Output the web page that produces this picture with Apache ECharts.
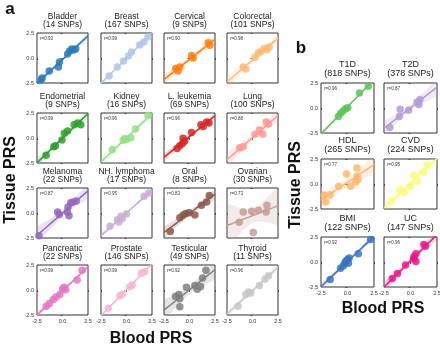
<!DOCTYPE html>
<html>
<head>
<meta charset="utf-8">
<script src="https://cdn.jsdelivr.net/npm/echarts@6/dist/echarts.min.js"></script>
<style>
  html, body { margin: 0; padding: 0; background: #fff; }
  #chart { width: 440px; height: 348px; }
</style>
</head>
<body>
<div id="chart"></div>
<script>
// ---- panel a: cancers ----
const namesA = ['Bladder', 'Breast', 'Cervical', 'Colorectal',
  'Endometrial', 'Kidney', 'L. leukemia', 'Lung',
  'Melanoma', 'NH. lymphoma', 'Oral', 'Ovarian',
  'Pancreatic', 'Prostate', 'Testicular', 'Thyroid']
const snpsA = [14, 167, 9, 101, 9, 16, 69, 100, 22, 17, 8, 30, 22, 146, 49, 11]
const rA = ['0.93', '0.99', '0.90', '0.98', '0.99', '0.96', '0.96', '0.88',
  '0.87', '0.95', '0.83', '0.73', '0.99', '0.99', '0.92', '0.96']
const colorsA = ['#2a7ab9', '#aec7e8', '#ff7f0e', '#ffbb78',
  '#2ca02c', '#98df8a', '#d62728', '#ff9896',
  '#9467bd', '#c5b0d5', '#8c564b', '#c49c94',
  '#e377c2', '#f7b6d2', '#7f7f7f', '#c7c7c7']

const bladder = [[-2.0, -2.0], [-2.1, -2.2], [-1.3, -1.3], [-0.4, -0.9], [-0.3, -0.4], [0.5, 0.4], [0.7, 0.7], [0.9, 0.9], [1.1, 0.8], [1.3, 0.9]]
const breast = [[-1.7, -1.8], [-0.9, -0.9], [-0.3, -0.3], [0.2, 0.2], [0.5, 0.6], [1.3, 1.3], [1.7, 1.6], [2.1, 2.1]]
const cervical = [[-1.35, -1.05], [-1.12, -1.3], [-0.95, -0.9], [0.2, 0.25], [0.36, 0.0], [1.84, 1.53], [2.0, 1.27]]
const colorectal = [[-0.91, -0.89], [-0.65, -1.1], [0.25, 0.08], [0.58, 0.5], [0.81, 0.63], [1.14, 0.95], [1.41, 0.82], [1.64, 1.1]]
const endometrial = [[-1.6, -1.72], [-0.85, -0.88], [-0.69, -0.78], [-0.05, -0.2], [0.18, 0.47], [0.5, 0.71], [1.15, 1.32], [1.47, 1.49], [1.79, 1.32]]
const kidney = [[-1.4, -1.14], [-0.32, -0.22], [-0.16, -0.05], [0.0, -0.15], [0.42, 0.02], [0.88, 0.9], [2.1, 2.26]]
const leukemia = [[-1.22, -1.05], [-0.95, -0.78], [-0.69, -0.54], [-0.63, -0.03], [-0.46, -0.3], [0.2, 0.54], [1.12, 1.32], [1.35, 1.15], [1.68, 1.59], [1.91, 1.49]]
const lung = [[-1.24, -0.98], [-0.91, -0.88], [0.25, 0.37], [0.68, 0.81], [1.01, 0.37], [1.34, 1.59], [1.57, 1.39]]
const melanoma = [[-2.31, -2.27], [-0.48, 0.11], [-0.32, -0.15], [0.48, 0.11], [0.64, -0.28], [0.54, 0.6], [0.8, 1.03], [1.03, 1.1], [1.35, 1.19]]
const lymphoma = [[-1.62, -1.33], [-0.88, -0.67], [-0.75, -0.9], [-0.55, -0.33], [-0.42, -0.57], [0.0, -0.1], [1.72, 1.67], [2.18, 2.0]]
const oral = [[-1.88, -1.85], [-0.95, -0.47], [-0.63, -0.21], [-0.36, -0.05], [-0.03, 0.02], [0.53, -0.21], [1.18, 0.77], [1.68, 1.09], [1.94, 1.75]]
const ovarian = [[-1.31, -0.93], [-0.91, 0.11], [-0.08, 0.18], [0.58, 0.28], [1.34, 0.11], [1.41, 0.77], [0.08, -1.94]]
const pancreatic = [[-1.6, -1.62], [-1.28, -1.36], [-0.9, -0.96], [-0.64, -0.7], [-0.26, -0.44], [0.0, 0.11], [0.16, 0.28], [0.32, 0.02], [1.44, 1.0], [1.92, 1.98]]
const prostate = [[-1.79, -1.83], [-0.65, -0.57], [-0.42, -0.43], [0.32, 0.33], [0.55, 0.5], [1.46, 1.67], [1.79, 1.83]]
const testicular = [[-1.38, -0.64], [-1.05, -0.44], [-0.95, -0.87], [-0.95, -1.68], [-0.3, 0.28], [0.53, 0.44], [0.76, 0.08], [1.09, 0.34], [1.28, 1.19], [1.61, 1.98]]
const thyroid = [[-1.41, -1.62], [-0.65, -0.44], [-0.41, -0.21], [-0.18, -0.31], [0.68, 0.44], [1.24, 1.09], [1.57, 1.42]]
const pointsA = [bladder, breast, cervical, colorectal, endometrial, kidney, leukemia, lung,
  melanoma, lymphoma, oral, ovarian, pancreatic, prostate, testicular, thyroid]

// ---- panel b: other traits ----
const namesB = ['T1D', 'T2D', 'HDL', 'CVD', 'BMI', 'UC']
const snpsB = [818, 378, 265, 224, 122, 147]
const rB = ['0.96', '0.87', '0.77', '0.95', '0.92', '0.96']
const colorsB = ['#62c35a', '#b39bd6', '#fdb86d', '#fbfb7a', '#3a74c2', '#ef1689']

const t1d = [[-0.86, -0.86], [-0.65, -0.53], [-0.42, -0.3], [-0.18, -0.07], [0.03, 0.03], [1.13, 1.51], [1.96, 2.17]]
const t2d = [[-1.95, -1.94], [-1.05, -0.86], [-0.98, -0.13], [-0.18, -0.23], [0.63, 0.59], [0.79, 0.36], [0.89, 0.86]]
const hdl = [[-2.2, -1.13], [-2.05, -1.8], [-1.65, -1.07], [-0.83, -0.23], [-0.08, 1.0], [0.29, -0.23], [0.89, 1.6], [0.92, 0.77], [0.98, 0.43], [0.77, 0.2]]
const cvd = [[-1.79, -1.67], [-0.98, -0.57], [-0.6, -0.83], [-0.02, -0.23], [0.31, 0.87], [0.63, 0.27], [1.21, 1.17], [1.6, 1.93]]
const bmi = [[-1.63, -1.75], [-0.66, -0.63], [-0.4, -0.39], [-0.27, -0.12], [-0.02, 0.22], [0.15, 0.39], [0.08, -0.12], [1.02, 0.83], [2.18, 2.26], [-0.18, 0.05]]
const uc = [[-1.72, -1.65], [-1.23, -1.14], [-0.47, -0.29], [0.28, 0.29], [0.34, 0.56], [0.51, 0.83], [0.51, 0.05], [1.26, 1.75], [1.42, 1.58]]
const pointsB = [t1d, t2d, hdl, cvd, bmi, uc]

const FONT = '"Liberation Sans", Arial, sans-serif'

// least squares fit with 95% confidence band
const regress = (pts) => {
  const n = pts.length
  const mx = pts.reduce((s, p) => s + p[0], 0) / n
  const my = pts.reduce((s, p) => s + p[1], 0) / n
  let sxx = 0
  let sxy = 0
  pts.forEach(p => { sxx += (p[0] - mx) ** 2; sxy += (p[0] - mx) * (p[1] - my) })
  const b = sxy / sxx
  const a = my - b * mx
  let ss = 0
  pts.forEach(p => { ss += (p[1] - a - b * p[0]) ** 2 })
  const s = Math.sqrt(ss / (n - 2))
  const out = []
  for (let i = 0; i <= 50; i++) {
    const x = -2.5 + i * 0.1
    const ci = 2.2 * s * Math.sqrt(1 / n + (x - mx) ** 2 / sxx)
    out.push({ x, y: a + b * x, ci })
  }
  return out
}

const panels = []
namesA.forEach((name, i) => {
  const col = i % 4
  const row = Math.floor(i / 4)
  panels.push({
    name, snps: snpsA[i], r: rA[i], color: colorsA[i], pts: pointsA[i],
    left: [37, 101, 164, 227][col], top: [33, 113, 188, 265][row], w: 51, h: 50,
    showY: col === 0, showX: row === 3, titleOff: [16, 8], titleSize: 8.5
  })
})
namesB.forEach((name, i) => {
  const col = i % 2
  const row = Math.floor(i / 2)
  panels.push({
    name, snps: snpsB[i], r: rB[i], color: colorsB[i], pts: pointsB[i],
    left: [321, 384][col], top: [83, 159, 237][row], w: 53, h: 50,
    showY: col === 0, showX: row === 2, titleOff: [18, 9], titleSize: 9
  })
})

const grid = []
const xAxis = []
const yAxis = []
const series = []
const graphic = []

const axisBase = (show) => ({
  type: 'value', min: -2.5, max: 2.5, interval: 2.5,
  splitLine: { show: false },
  axisLine: { show: false },
  axisTick: { show: true, length: 2, lineStyle: { color: '#333', width: 0.8 } },
  axisLabel: {
    show, fontSize: 5.5, fontFamily: FONT, color: '#333', margin: 3,
    formatter: v => v.toFixed(1)
  }
})

panels.forEach((p, i) => {
  grid.push({
    left: p.left, top: p.top, width: p.w, height: p.h,
    show: true, borderColor: '#333', borderWidth: 1, outerBoundsMode: 'none'
  })
  xAxis.push(Object.assign(axisBase(p.showX), { gridIndex: i }))
  yAxis.push(Object.assign(axisBase(p.showY), { gridIndex: i }))

  const fit = regress(p.pts)
  const color = p.color
  // confidence band as one polygon, clipped to the panel
  series.push({
    type: 'custom', xAxisIndex: i, yAxisIndex: i, clip: true, silent: true, z: 1,
    data: [[0, 0]],
    renderItem: (params, api) => {
      const upper = fit.map(f => api.coord([f.x, f.y + f.ci]))
      const lower = fit.map(f => api.coord([f.x, f.y - f.ci])).reverse()
      const cs = params.coordSys
      const pts = echarts.graphic.clipPointsByRect(upper.concat(lower),
        { x: cs.x, y: cs.y, width: cs.width, height: cs.height })
      return { type: 'polygon', shape: { points: pts }, style: { fill: color, opacity: 0.2 } }
    }
  })
  series.push({
    type: 'scatter', xAxisIndex: i, yAxisIndex: i, data: p.pts,
    symbolSize: 7.5, itemStyle: { color: p.color, opacity: 0.85 }, z: 2, clip: true
  })
  series.push({
    type: 'line', xAxisIndex: i, yAxisIndex: i,
    data: fit.map(f => [f.x, f.y]),
    symbol: 'none', lineStyle: { color: p.color, width: 1.5 }, silent: true, z: 3, clip: true
  })

  const cx = p.left + p.w / 2
  graphic.push({
    type: 'text', silent: true,
    style: { text: p.name, x: cx, y: p.top - p.titleOff[0], textAlign: 'center', textVerticalAlign: 'middle',
      font: p.titleSize + 'px ' + FONT, fill: '#222' }
  })
  graphic.push({
    type: 'text', silent: true,
    style: { text: '(' + p.snps + ' SNPs)', x: cx, y: p.top - p.titleOff[1], textAlign: 'center', textVerticalAlign: 'middle',
      font: p.titleSize + 'px ' + FONT, fill: '#222' }
  })
  graphic.push({
    type: 'text', silent: true, z: 10,
    style: { text: 'r=' + p.r, x: p.left + 3, y: p.top + 6, textAlign: 'left', textVerticalAlign: 'middle',
      font: '4.5px ' + FONT, fill: '#333' }
  })
})

const bigText = (text, x, y, rot, size) => ({
  type: 'text', silent: true, x, y, rotation: rot,
  style: { text, x: 0, y: 0, textAlign: 'center', textVerticalAlign: 'middle',
    font: 'bold ' + size + 'px ' + FONT, fill: '#111' }
})
graphic.push(bigText('a', 10, 9, 0, 17))
graphic.push(bigText('b', 301, 48, 0, 17))
graphic.push(bigText('Tissue PRS', 11, 180, Math.PI / 2, 16))
graphic.push(bigText('Blood PRS', 151, 339, 0, 16))
graphic.push(bigText('Tissue PRS', 296, 185, Math.PI / 2, 16))
graphic.push(bigText('Blood PRS', 383, 309, 0, 16))

const chart = echarts.init(document.getElementById('chart'))
chart.setOption({
  animation: false,
  backgroundColor: '#fff',
  grid, xAxis, yAxis, series, graphic
})
</script>
</body>
</html>
